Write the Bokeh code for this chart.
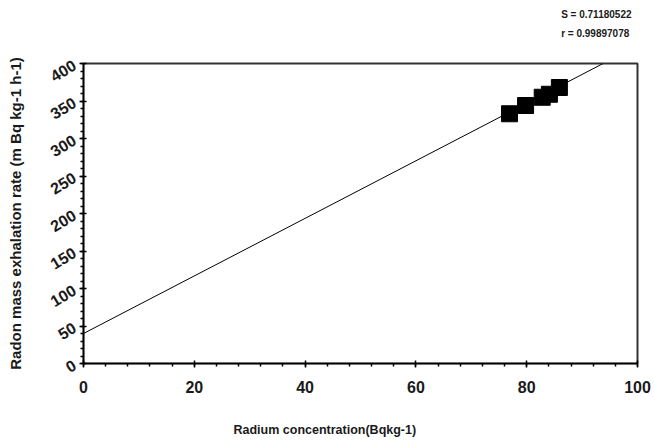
from bokeh.plotting import figure
from bokeh.models import Range1d, FixedTicker, Title
from bokeh.embed import file_html
from bokeh.resources import INLINE

# Data
radium = [76.9, 79.8, 82.8, 84.1, 85.9]
exhalation = [333, 344, 355, 359, 368]
fit_x = [0, 93.8]
fit_y = [40, 400]
x_ticks = [0, 20, 40, 60, 80, 100]
y_ticks = [0, 50, 100, 150, 200, 250, 300, 350, 400]
x_minor = list(range(0, 101, 4))
y_minor = list(range(0, 401, 10))
s_text = "S = 0.71180522"
r_text = "r = 0.99897078"
x_title = "Radium concentration(Bqkg-1)"
y_title = "Radon mass exhalation rate (m Bq kg-1 h-1)"

FONT = "Liberation Sans"

p = figure(width=654, height=446, output_backend="svg", toolbar_location=None,
           x_range=Range1d(0, 100), y_range=Range1d(0, 400),
           min_border_left=83, min_border_right=17, min_border_top=63, min_border_bottom=83)

p.title.visible = False

p.line(fit_x, fit_y, line_color="black", line_width=1)
p.scatter(radium, exhalation, marker="square", size=16, fill_color="black", line_color="black")

p.xgrid.visible = False
p.ygrid.visible = False
p.outline_line_color = "#333333"
p.outline_line_width = 2

p.xaxis.ticker = FixedTicker(ticks=x_ticks, minor_ticks=x_minor)
p.yaxis.ticker = FixedTicker(ticks=y_ticks, minor_ticks=y_minor)

for ax in (p.xaxis[0], p.yaxis[0]):
    ax.axis_line_color = "black"
    ax.axis_line_width = 1.5
    ax.major_tick_in = 3
    ax.major_tick_out = 4
    ax.minor_tick_in = 0
    ax.minor_tick_out = 3
    ax.major_tick_line_width = 1.5
    ax.minor_tick_line_width = 1.5
    ax.major_label_text_font = FONT
    ax.major_label_text_font_style = "bold"
    ax.major_label_text_font_size = "16px"
    ax.major_label_text_color = "#1a1a1a"
    ax.axis_label_text_font = FONT
    ax.axis_label_text_font_style = "bold"
    ax.axis_label_text_color = "#1a1a1a"

p.xaxis.major_label_standoff = 13

p.yaxis.axis_label = y_title
p.yaxis.axis_label_text_font_size = "15px"
p.yaxis.major_label_orientation = 0.55
p.yaxis.major_label_standoff = 5
p.yaxis.axis_label_standoff = 18

p.add_layout(Title(text="\n" + x_title, align="left", offset=150, standoff=4,
                   text_font=FONT, text_font_style="bold", text_line_height=1.72,
                   text_font_size="12.5px", text_color="#1a1a1a"), "below")

p.add_layout(Title(text=s_text + "\n" + r_text + "\n", align="right", offset=6, standoff=12,
                   text_font=FONT, text_font_style="bold", text_line_height=1.7,
                   text_font_size="10px", text_color="#1a1a1a"), "above")

open("out.html", "w").write(file_html(p, INLINE))
